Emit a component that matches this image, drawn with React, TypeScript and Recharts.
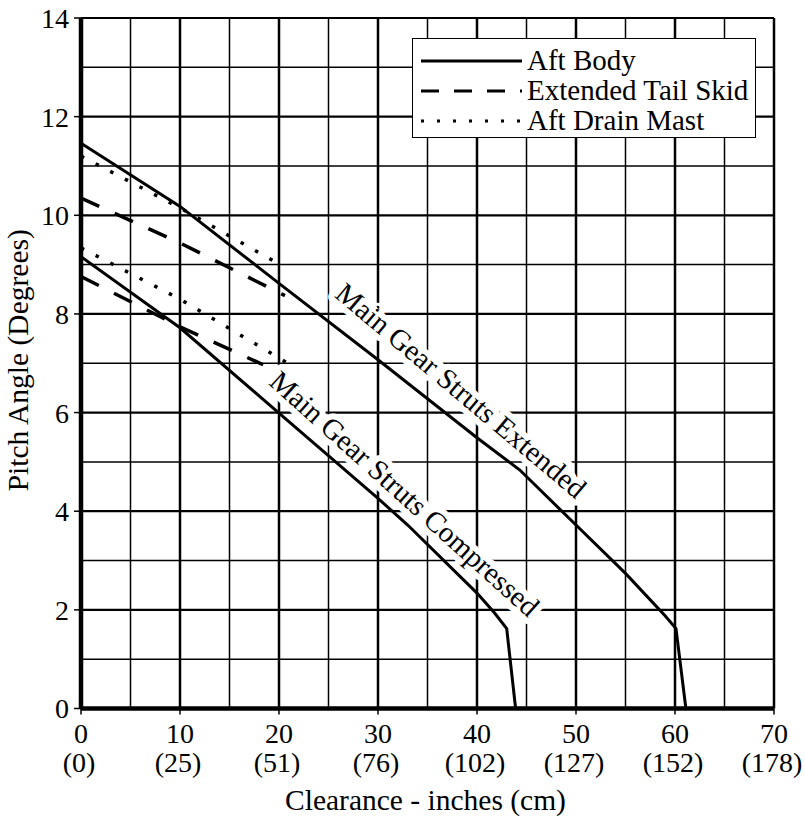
import React from 'react';
import {
    LineChart,
    Line,
    XAxis,
    YAxis,
    ReferenceLine,
    ReferenceDot,
    Legend,
    Label,
} from 'recharts';

// tick values and labels
const X_TICKS = [0, 10, 20, 30, 40, 50, 60, 70];
const CM_LABELS = ['(0)', '(25)', '(51)', '(76)', '(102)', '(127)', '(152)', '(178)'];
const Y_TICKS = [0, 2, 4, 6, 8, 10, 12, 14];

// grid lines (heavy on labelled values, light in between)
const MAJOR_X = [10, 20, 30, 40, 50, 60, 70];
const MINOR_X = [5, 15, 25, 35, 45, 55, 65];
const MAJOR_Y = [2, 4, 6, 8, 10, 12, 14];
const MINOR_Y = [1, 3, 5, 7, 9, 11, 13];

// Aft body - main gear struts extended
const aftExtX = [0, 10, 20, 30, 40, 44.3, 50, 55, 59, 60.1, 61.1];
const aftExtY = [11.46, 10.18, 8.62, 7.07, 5.49, 4.84, 3.72, 2.74, 1.88, 1.62, 0];
// Aft body - main gear struts compressed
const aftCompX = [0, 10, 20, 30, 33, 40, 41.8, 43, 43.9];
const aftCompY = [9.16, 7.72, 5.99, 4.26, 3.72, 2.34, 1.93, 1.62, 0];

// Extended tail skid
const skidExtX = [0, 10, 20.6];
const skidExtY = [10.35, 9.44, 8.37];
const skidCompX = [0, 10, 18.4];
const skidCompY = [8.76, 7.74, 6.97];

// Aft drain mast
const mastExtX = [0, 10, 20.1];
const mastExtY = [11.2, 10.15, 9.0];
const mastCompX = [0, 10, 20.9];
const mastCompY = [9.34, 8.3, 7.0];

const LEGEND_NAMES = ['Aft Body', 'Extended Tail Skid', 'Aft Drain Mast'];
const LEGEND_DASH = ['', '18 15', '3 13'];

const FONT = "'Liberation Serif', 'Times New Roman', Times, serif";

const zip = (xs: number[], ys: number[]) => xs.map((x, i) => ({ x, y: ys[i] }));

const XTick = (props: any) => {
    const { x, y, payload, index } = props;
    return (
        <g>
            <text x={x} y={y + 26} textAnchor="middle" fontSize={28} style={{ fontFamily: FONT }} fill="#000">
                {payload.value}
            </text>
            <text x={x - 2} y={y + 55} textAnchor="middle" fontSize={28} style={{ fontFamily: FONT }} fill="#000">
                {CM_LABELS[index]}
            </text>
        </g>
    );
};

const curveLabel = (text: string, angle: number) => (props: any) => (
    <text
        x={props.cx}
        y={props.cy}
        transform={`rotate(${angle} ${props.cx} ${props.cy})`}
        textAnchor="middle"
        dominantBaseline="central"
        fontSize={29}
        style={{ fontFamily: FONT }}
        fill="#000"
        stroke="#fff"
        strokeWidth={12}
        strokeLinejoin="round"
        paintOrder="stroke"
    >
        {text}
    </text>
);

const LegendBox = () => (
    <div
        style={{
            width: 342,
            height: 92,
            border: '1px solid #000',
            background: '#fff',
            fontFamily: FONT,
            fontSize: 29,
            paddingTop: 6,
            boxSizing: 'content-box',
        }}
    >
        {LEGEND_NAMES.map((name, i) => (
            <div key={name} style={{ display: 'flex', alignItems: 'center', height: 30, lineHeight: '30px' }}>
                <svg width={114} height={30} style={{ flex: 'none' }}>
                    <line
                        x1={8}
                        x2={109}
                        y1={16}
                        y2={16}
                        stroke="#000"
                        strokeWidth={3}
                        strokeDasharray={LEGEND_DASH[i] || undefined}
                    />
                </svg>
                <span style={{ whiteSpace: 'nowrap' }}>{name}</span>
            </div>
        ))}
    </div>
);

const lineProps = {
    dataKey: 'y',
    stroke: '#000',
    dot: false,
    activeDot: false,
    isAnimationActive: false,
    type: 'linear' as const,
};

const App = () => {
    return (
        <div style={{ position: 'absolute', left: 0, top: 0, background: '#fff', fontFamily: FONT }}>
            <LineChart width={805} height={821} margin={{ top: 18, right: 31, left: 0, bottom: 0 }}>
                {MINOR_X.map((v) => (
                    <ReferenceLine key={`mx${v}`} x={v} stroke="#000" strokeWidth={1.5} />
                ))}
                {MINOR_Y.map((v) => (
                    <ReferenceLine key={`my${v}`} y={v} stroke="#000" strokeWidth={1.5} />
                ))}
                {MAJOR_X.map((v) => (
                    <ReferenceLine key={`Mx${v}`} x={v} stroke="#000" strokeWidth={2.5} />
                ))}
                {MAJOR_Y.map((v) => (
                    <ReferenceLine key={`My${v}`} y={v} stroke="#000" strokeWidth={2.2} />
                ))}
                <XAxis
                    dataKey="x"
                    type="number"
                    domain={[0, 70]}
                    ticks={X_TICKS}
                    allowDataOverflow
                    height={112.5}
                    axisLine={{ stroke: '#000', strokeWidth: 4.5 }}
                    tickLine={{ stroke: '#000', strokeWidth: 1.5 }}
                    tickSize={6}
                    tickMargin={2}
                    tick={<XTick />}
                    interval={0}
                >
                    <Label
                        content={(p: any) => (
                            <text
                                x={p.viewBox.x + p.viewBox.width / 2 - 2}
                                y={p.viewBox.y + 101.5}
                                textAnchor="middle"
                                fontSize={29.5}
                                style={{ fontFamily: FONT }}
                                fill="#000"
                            >
                                Clearance - inches (cm)
                            </text>
                        )}
                    />
                </XAxis>
                <YAxis
                    type="number"
                    domain={[0, 14]}
                    ticks={Y_TICKS}
                    allowDataOverflow
                    width={81}
                    axisLine={{ stroke: '#000', strokeWidth: 4.5 }}
                    tickLine={{ stroke: '#000', strokeWidth: 1.5 }}
                    tickSize={7}
                    tickMargin={5}
                    tick={{ fontSize: 28, fill: '#000', style: { fontFamily: FONT } }}
                    interval={0}
                >
                    <Label
                        content={(p: any) => {
                            const cx = 28;
                            const cy = p.viewBox.y + p.viewBox.height / 2 - 3;
                            return (
                                <text
                                    x={cx}
                                    y={cy}
                                    transform={`rotate(-90 ${cx} ${cy})`}
                                    textAnchor="middle"
                                    fontSize={29.5}
                                    style={{ fontFamily: FONT }}
                                    fill="#000"
                                >
                                    Pitch Angle (Degrees)
                                </text>
                            );
                        }}
                    />
                </YAxis>
                <ReferenceDot x={38.4} y={6.45} r={0} shape={curveLabel('Main Gear Struts Extended', 40)} />
                <ReferenceDot x={32.7} y={4.36} r={0} shape={curveLabel('Main Gear Struts Compressed', 42)} />
                <Line {...lineProps} data={zip(aftExtX, aftExtY)} name="Aft Body" strokeWidth={3} />
                <Line {...lineProps} data={zip(aftCompX, aftCompY)} name="Aft Body (compressed)" strokeWidth={3} legendType="none" />
                <Line {...lineProps} data={zip(skidExtX, skidExtY)} name="Extended Tail Skid" strokeWidth={3.5} strokeDasharray="20 17" />
                <Line {...lineProps} data={zip(skidCompX, skidCompY)} name="Extended Tail Skid (compressed)" strokeWidth={3.5} strokeDasharray="20 17" legendType="none" />
                <Line {...lineProps} data={zip(mastExtX, mastExtY)} name="Aft Drain Mast" strokeWidth={3.5} strokeDasharray="3.5 13" />
                <Line {...lineProps} data={zip(mastCompX, mastCompY)} name="Aft Drain Mast (compressed)" strokeWidth={3.5} strokeDasharray="3.5 13" legendType="none" />
                <Legend
                    layout="horizontal"
                    verticalAlign="middle"
                    align="center"
                    content={<LegendBox />}
                    wrapperStyle={{ left: 412, top: 38, width: 344, height: 100 }}
                />
            </LineChart>
        </div>
    );
};

export default App;
